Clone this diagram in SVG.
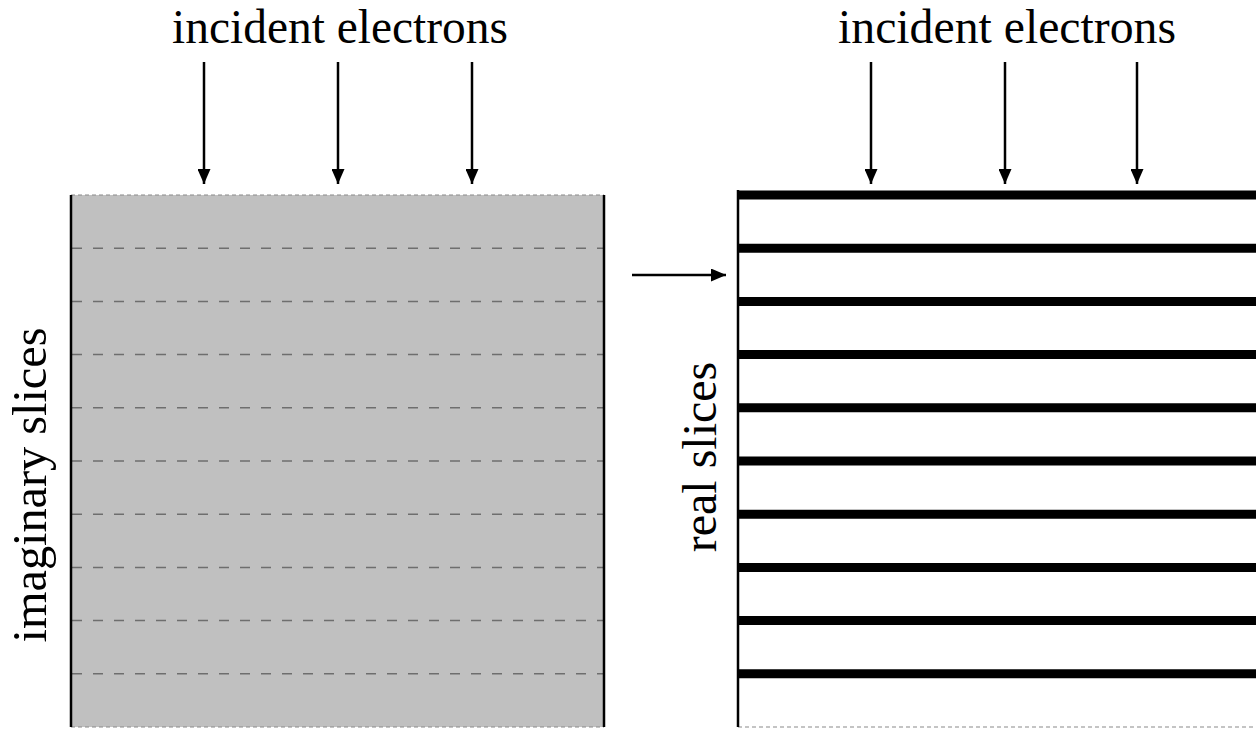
<svg xmlns="http://www.w3.org/2000/svg" width="1256" height="732" viewBox="0 0 1256 732">
<defs>
<marker id="ah" markerWidth="14" markerHeight="13" refX="15" refY="6.5" orient="auto" markerUnits="userSpaceOnUse">
<path d="M0,0 L15,6.5 L0,13 Z" fill="#000"/>
</marker>
<style>
.lbl{font-family:"Liberation Serif","Times New Roman",serif;font-size:48px;fill:#000}
.dash{stroke:#6e6e6e;stroke-width:1.5;stroke-dasharray:10 11}
.fine{stroke:#8a8a8a;stroke-width:1.2;stroke-dasharray:4 3}
.edge{stroke:#000;stroke-width:2.5}
.slice{stroke:#000;stroke-width:9}
.arr{stroke:#000;stroke-width:2.5;fill:none}
</style>
</defs>
<rect width="1256" height="732" fill="#fff"/>
<g id="imaginary-block">
<rect x="71" y="195" width="533" height="532" fill="#c0c0c0"/>
<line class="fine" x1="71" y1="195" x2="604" y2="195"/>
<line class="fine" x1="71" y1="727" x2="604" y2="727"/>
<line class="dash" x1="72" y1="248.2" x2="604" y2="248.2"/>
<line class="dash" x1="72" y1="301.4" x2="604" y2="301.4"/>
<line class="dash" x1="72" y1="354.6" x2="604" y2="354.6"/>
<line class="dash" x1="72" y1="407.8" x2="604" y2="407.8"/>
<line class="dash" x1="72" y1="461" x2="604" y2="461"/>
<line class="dash" x1="72" y1="514.2" x2="604" y2="514.2"/>
<line class="dash" x1="72" y1="567.4" x2="604" y2="567.4"/>
<line class="dash" x1="72" y1="620.6" x2="604" y2="620.6"/>
<line class="dash" x1="72" y1="673.8" x2="604" y2="673.8"/>
<line class="edge" x1="71" y1="195" x2="71" y2="727"/>
<line class="edge" x1="604" y1="195" x2="604" y2="727"/>
</g>
<g id="real-block">
<line class="fine" x1="738" y1="727" x2="1256" y2="727"/>
<line class="edge" x1="738" y1="190" x2="738" y2="727"/>
<line class="slice" x1="737" y1="195" x2="1256" y2="195"/>
<line class="slice" x1="737" y1="248.2" x2="1256" y2="248.2"/>
<line class="slice" x1="737" y1="301.4" x2="1256" y2="301.4"/>
<line class="slice" x1="737" y1="354.6" x2="1256" y2="354.6"/>
<line class="slice" x1="737" y1="407.8" x2="1256" y2="407.8"/>
<line class="slice" x1="737" y1="461" x2="1256" y2="461"/>
<line class="slice" x1="737" y1="514.2" x2="1256" y2="514.2"/>
<line class="slice" x1="737" y1="567.4" x2="1256" y2="567.4"/>
<line class="slice" x1="737" y1="620.6" x2="1256" y2="620.6"/>
<line class="slice" x1="737" y1="673.8" x2="1256" y2="673.8"/>
</g>
<g id="label-left-top"><text class="lbl" x="340" y="43" text-anchor="middle" textLength="336" lengthAdjust="spacingAndGlyphs">incident electrons</text></g>
<g id="label-right-top"><text class="lbl" x="1007" y="43" text-anchor="middle" textLength="338" lengthAdjust="spacingAndGlyphs">incident electrons</text></g>
<g id="label-imaginary"><text class="lbl" transform="translate(46,485) rotate(-90)" text-anchor="middle" textLength="315" lengthAdjust="spacingAndGlyphs">imaginary slices</text></g>
<g id="label-real"><text class="lbl" transform="translate(716,457) rotate(-90)" text-anchor="middle">real slices</text></g>
<g id="connectors">
<line class="arr" x1="204" y1="62" x2="204" y2="184" marker-end="url(#ah)"/>
<line class="arr" x1="338" y1="62" x2="338" y2="184" marker-end="url(#ah)"/>
<line class="arr" x1="472" y1="62" x2="472" y2="184" marker-end="url(#ah)"/>
<line class="arr" x1="871" y1="62" x2="871" y2="184" marker-end="url(#ah)"/>
<line class="arr" x1="1005" y1="62" x2="1005" y2="184" marker-end="url(#ah)"/>
<line class="arr" x1="1137" y1="62" x2="1137" y2="184" marker-end="url(#ah)"/>
<line class="arr" x1="632" y1="275" x2="726" y2="275" marker-end="url(#ah)"/>
</g>
</svg>
